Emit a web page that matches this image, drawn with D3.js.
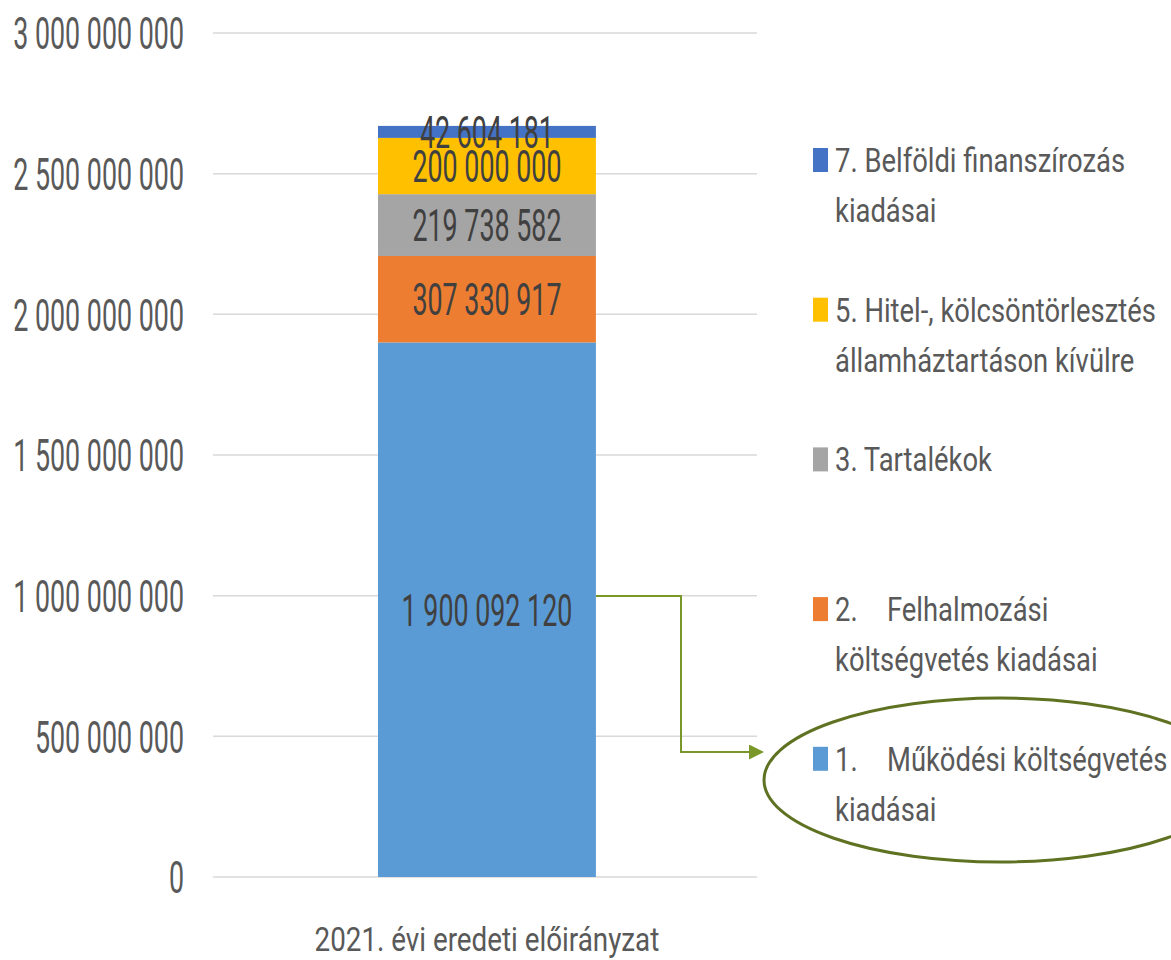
<!DOCTYPE html>
<html>
<head>
<meta charset="utf-8">
<script src="https://cdn.jsdelivr.net/npm/d3@7"></script>
<style>
  html, body { margin: 0; padding: 0; background: #fff; }
  svg { display: block; font-family: Roboto, "Liberation Sans", Arial, sans-serif; font-weight: 400; }
</style>
</head>
<body>
<div id="chart"></div>
<script>
// data
const categories = ["2021. évi eredeti előirányzat"];
const seriesKeys = ["s1", "s2", "s3", "s5", "s7"];
const seriesValues = [1900092120, 307330917, 219738582, 200000000, 42604181];
const seriesColors = ["#5b9bd5", "#ed7d31", "#a5a5a5", "#ffc000", "#4472c4"];
const legendLines = [
    ["7. Belföldi finanszírozás", "kiadásai"],
    ["5. Hitel-, kölcsöntörlesztés", "államháztartáson kívülre"],
    ["3. Tartalékok"],
    ["2.", "költségvetés kiadásai"],
    ["1.", "kiadásai"]
];
const legendSecondWord = [null, null, null, "Felhalmozási", "Működési költségvetés"];
const legendColors = ["#4472c4", "#ffc000", "#a5a5a5", "#ed7d31", "#5b9bd5"];
const tickValues = [0, 500000000, 1000000000, 1500000000, 2000000000, 2500000000, 3000000000];

const W = 1171, H = 960;
const COLORS = {
    grid: '#d9d9d9',
    tickText: '#595959',
    labelText: '#404040',
    arrow: '#7a972a',
    ellipse: '#5f7222'
}
const FONT = 'Roboto, "Liberation Sans", Arial, sans-serif';

const locale = d3.formatLocale({ decimal: ",", thousands: " ", grouping: [3], currency: ["", ""] });
const fmt = locale.format(",d");

const svg = d3.select('#chart').append('svg')
    .attr('width', W)
    .attr('height', H);

const y = d3.scaleLinear().domain([0, 3000000000]).range([877, 33]);
const x = d3.scaleBand().domain(categories).range([213, 757]).padding(0.428).align(0.506);

// gridlines
svg.append('g').selectAll('line')
    .data(tickValues)
    .enter()
    .append('line')
    .attr('x1', 213).attr('x2', 757)
    .attr('y1', d => y(d)).attr('y2', d => y(d))
    .style('stroke', COLORS.grid)
    .style('stroke-width', 1.5);

// y axis labels
const yAxis = svg.append('g')
    .attr('transform', 'translate(184,0)')
    .call(d3.axisLeft(y).tickValues(tickValues).tickSize(0).tickPadding(0).tickFormat(fmt));
yAxis.select('.domain').remove();
yAxis.selectAll('text')
    .attr('x', 0)
    .attr('dy', '0.36em')
    .attr('transform', 'scale(0.61,1)')
    .attr('font-family', FONT)
    .attr('font-weight', 400)
    .attr('font-size', 44)
    .attr('fill', COLORS.tickText);

// stacked bar
const row = {};
seriesKeys.forEach((k, i) => row[k] = seriesValues[i]);
const stacked = d3.stack().keys(seriesKeys)([row]);

const segs = svg.append('g').selectAll('g')
    .data(stacked)
    .enter()
    .append('g');

segs.append('rect')
    .attr('x', x(categories[0]))
    .attr('width', x.bandwidth())
    .attr('y', d => y(d[0][1]))
    .attr('height', d => y(d[0][0]) - y(d[0][1]))
    .style('fill', (d, i) => seriesColors[i]);

segs.append('text')
    .attr('transform', d => 'translate(' + (x(categories[0]) + x.bandwidth() / 2) + ',' + y((d[0][0] + d[0][1]) / 2) + ') scale(0.61,1)')
    .attr('dy', '0.36em')
    .attr('text-anchor', 'middle')
    .attr('font-size', 44)
    .attr('fill', COLORS.labelText)
    .text((d, i) => fmt(seriesValues[i]));

// category label
svg.append('text')
    .attr('transform', 'translate(' + (x(categories[0]) + x.bandwidth() / 2) + ',951) scale(0.83,1)')
    .attr('text-anchor', 'middle')
    .attr('font-size', 33.5)
    .attr('fill', COLORS.tickText)
    .text(categories[0]);

// legend
const legend = svg.append('g').selectAll('g')
    .data(legendLines)
    .enter()
    .append('g')
    .attr('transform', (d, i) => 'translate(0,' + (172 + i * 149.7) + ')');

legend.append('rect')
    .attr('x', 813).attr('y', -24)
    .attr('width', 15).attr('height', 24)
    .style('fill', (d, i) => legendColors[i]);

legend.each(function (lines, i) {
    var g = d3.select(this);
    lines.forEach((line, j) => {
        g.append('text')
            .attr('transform', 'translate(835,' + (j * 50) + ') scale(0.83,1)')
            .attr('font-size', 33)
            .attr('fill', COLORS.tickText)
            .text(line);
    });
    if (legendSecondWord[i]) {
        g.append('text')
            .attr('transform', 'translate(887,0) scale(0.83,1)')
            .attr('font-size', 33)
            .attr('fill', COLORS.tickText)
            .text(legendSecondWord[i]);
    }
});

// annotation: arrow + ellipse
svg.append('defs').append('marker')
    .attr('id', 'arrowHead')
    .attr('viewBox', '0 0 10 10')
    .attr('refX', 0).attr('refY', 5)
    .attr('markerWidth', 7.5).attr('markerHeight', 7.5)
    .attr('markerUnits', 'strokeWidth')
    .attr('orient', 'auto')
    .append('path')
    .attr('d', 'M0,0 L10,5 L0,10 Z')
    .style('fill', COLORS.arrow);

const barRight = x(categories[0]) + x.bandwidth();
svg.append('path')
    .attr('d', d3.line()([[barRight, 596], [681, 596], [681, 752], [749, 752]]))
    .style('fill', 'none')
    .style('stroke', COLORS.arrow)
    .style('stroke-width', 2)
    .attr('marker-end', 'url(#arrowHead)');

svg.append('ellipse')
    .attr('cx', 1000).attr('cy', 780)
    .attr('rx', 236).attr('ry', 82)
    .style('fill', 'none')
    .style('stroke', COLORS.ellipse)
    .style('stroke-width', 3);
</script>
</body>
</html>
